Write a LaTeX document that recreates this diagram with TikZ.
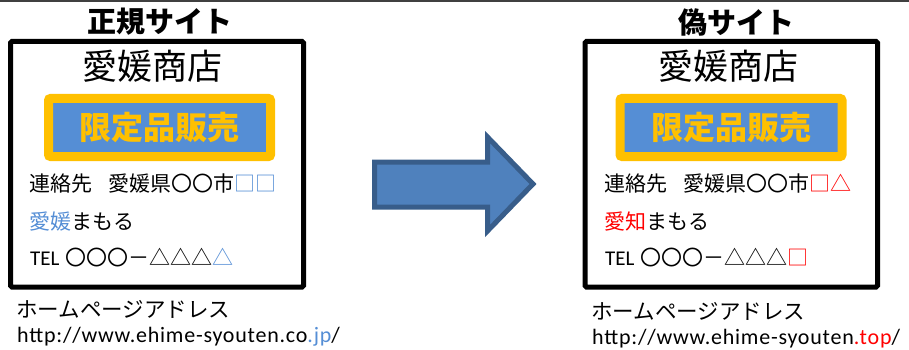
\documentclass[tikz,border=0pt]{standalone}
\usepackage{fontspec}
\usepackage{xcolor}
\setmainfont{Noto Sans CJK JP}
\newfontfamily\latinfont{Carlito}
\newfontfamily\urlfont[LetterSpace=3.5]{Carlito}
\usetikzlibrary{positioning}

\definecolor{saleblue}{HTML}{558ED5}
\definecolor{saleorange}{HTML}{FFC000}
\definecolor{arrowfill}{HTML}{4F81BD}
\definecolor{arrowline}{HTML}{385D8A}
\definecolor{fakered}{HTML}{FF0000}

\begin{document}
\begin{tikzpicture}[x=1pt, y=-1pt, inner sep=0pt,
    sitebox/.style={draw, line width=5pt, rounded corners=1.5pt, minimum height=245.5pt},
    salebox/.style={draw=saleorange, fill=saleblue, line width=9pt, rounded corners=2pt,
        minimum width=222pt, minimum height=58pt, text=saleorange, font=\fontsize{32}{32}\bfseries},
    sitetitle/.style={font=\fontsize{29}{29}\bfseries},
    shopname/.style={font=\fontsize{35}{35}\selectfont},
    infoline/.style={anchor=west, font=\fontsize{21}{21}\selectfont},
    hpline/.style={anchor=west, font=\fontsize{21.5}{21.5}\selectfont},
    urlline/.style={anchor=base west, font=\urlfont\fontsize{22}{22}\selectfont}]
        \useasboundingbox (0,0) rectangle (909,350);
        \draw [line width=2pt, black!75] (0,1) -- (909,1);
        % genuine site
        \node [sitetitle] (realtitle) at (160,22) {正規サイト};
        \node [sitebox, minimum width=293pt] (real) at (157,164.25) {};
        \node [shopname] (realshop) at (152.5,66.5) {愛媛商店};
        \node [salebox] (realsale) at (159.5,127.5) {限定品販売};
        \node [infoline] (realaddr) at (29,184) {連絡先\hspace{16pt}愛媛県〇〇市\textcolor{saleblue}{□□}};
        \node [infoline] (realname) at (29,221.5) {\textcolor{saleblue}{愛媛}まもる};
        \node [infoline] (realtel) at (30,258) {{\latinfont TEL}\hspace{6pt}〇〇〇－△△△\textcolor{saleblue}{△}};
        \node [hpline] (realhp) at (16,309) {ホームページアドレス};
        \node [urlline] (realurl) at (17,342.6) {http://www.ehime-syouten.co\textcolor{saleblue}{.jp}/};
        % fake site
        \node [sitetitle] (faketitle) at (736,22) {偽サイト};
        \node [sitebox, minimum width=292.5pt] (fake) at (731.25,164.25) {};
        \node [shopname] (fakeshop) at (728,66.5) {愛媛商店};
        \node [salebox] (fakesale) at (731,127.5) {限定品販売};
        \node [infoline] (fakeaddr) at (604,184) {連絡先\hspace{16pt}愛媛県〇〇市\textcolor{fakered}{□△}};
        \node [infoline] (fakename) at (604,221.5) {\textcolor{fakered}{愛知}まもる};
        \node [infoline] (faketel) at (605,258) {{\latinfont TEL}\hspace{6pt}〇〇〇－△△△\textcolor{fakered}{□}};
        \node [hpline] (fakehp) at (591,311) {ホームページアドレス};
        \node [urlline] (fakeurl) at (592,344.5) {http://www.ehime-syouten\textcolor{fakered}{.top}/};
        % arrow between them
        \draw [line width=5pt, draw=arrowline, fill=arrowfill, line join=miter]
            (374.5,162) -- (487.5,162) -- (487.5,137) -- (533,184) -- (487.5,231)
            -- (487.5,207) -- (374.5,207) -- cycle;
    \end{tikzpicture}
\end{document}
